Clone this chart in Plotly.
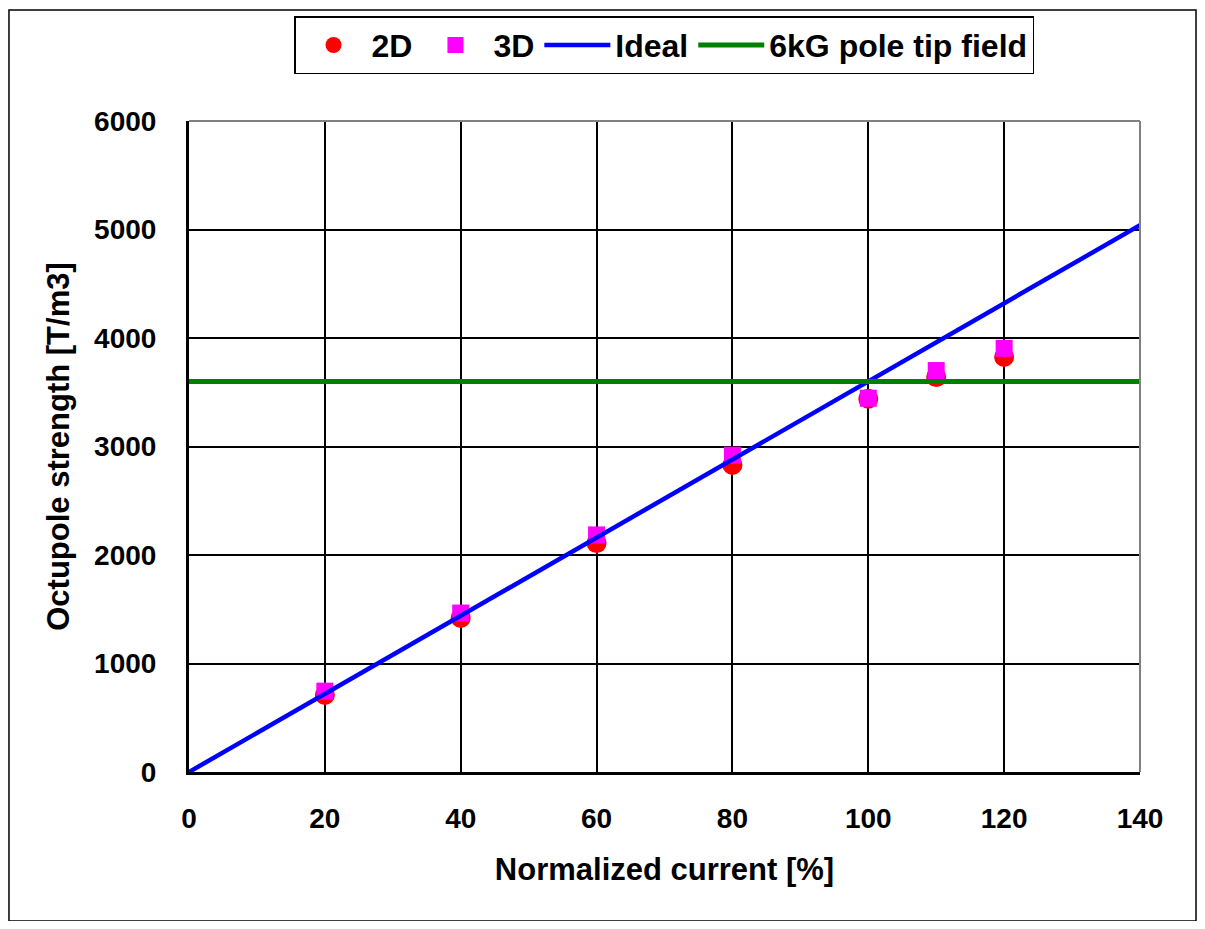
import plotly.graph_objects as go

# --- data ---
current = [20, 40, 60, 80, 100, 110, 120]
strength_2d = [710, 1420, 2110, 2830, 3440, 3640, 3825]
strength_3d = [745, 1465, 2185, 2920, 3445, 3700, 3905]

ideal_x = [0, 140]
ideal_y = [0, 5040]

pole_tip_x = [0, 140]
pole_tip_y = [3600, 3600]

FONT = "Arial, Liberation Sans, sans-serif"

fig = go.Figure()

fig.add_trace(go.Scatter(x=current, y=strength_2d, name="2D", mode="markers",
                         marker=dict(color="#ff0000", size=20, symbol="circle")))
fig.add_trace(go.Scatter(x=current, y=strength_3d, name="3D", mode="markers",
                         marker=dict(color="#ff00ff", size=17, symbol="square")))
fig.add_trace(go.Scatter(x=ideal_x, y=ideal_y, name="Ideal", mode="lines",
                         line=dict(color="#0000ff", width=4.5)))
fig.add_trace(go.Scatter(x=pole_tip_x, y=pole_tip_y, name="6kG pole tip field", mode="lines",
                         line=dict(color="#008000", width=5)))

# outer frame around the whole chart
fig.add_shape(type="rect", xref="paper", yref="paper",
              x0=-0.1893, x1=1.0589, y0=-0.2289, y1=1.1705,
              line=dict(color="black", width=1.5), layer="below")
# gray top/right edge of plot area
fig.add_shape(type="line", xref="paper", yref="paper", x0=0, x1=1, y0=1, y1=1,
              line=dict(color="#808080", width=2))
fig.add_shape(type="line", xref="paper", yref="paper", x0=1, x1=1, y0=0, y1=1,
              line=dict(color="#808080", width=2))

# the page body adds an 8px margin, so the figure is 16px smaller than the window
fig.update_layout(
    width=1189, height=913,
    margin=dict(l=181, r=57, t=113, b=149, autoexpand=False),
    paper_bgcolor="white", plot_bgcolor="white",
    font=dict(family=FONT, size=28, color="black", weight="bold"),
    showlegend=True,
    legend=dict(orientation="h", x=0.4995, xanchor="center", y=1.161, yanchor="top",
                bordercolor="black", borderwidth=1.5, bgcolor="white",
                font=dict(family=FONT, size=32, color="black", weight="bold"),
                itemwidth=66, traceorder="normal"),
    xaxis=dict(range=[0, 140], tickvals=[0, 20, 40, 60, 80, 100, 120, 140],
               showgrid=True, gridcolor="black", gridwidth=2,
               showline=True, linecolor="black", linewidth=3,
               zeroline=False, ticks="", ticklabelstandoff=19,
               tickfont=dict(size=28, weight="bold"),
               title=dict(text="Normalized current [%]", standoff=26,
                          font=dict(size=31, weight="bold"))),
    yaxis=dict(range=[0, 6000], tickvals=[0, 1000, 2000, 3000, 4000, 5000, 6000],
               showgrid=True, gridcolor="black", gridwidth=2,
               showline=True, linecolor="black", linewidth=3,
               zeroline=False, ticks="", ticklabelstandoff=24,
               tickfont=dict(size=28, weight="bold"),
               title=dict(text="Octupole strength [T/m3]", standoff=16,
                          font=dict(size=31, weight="bold"))),
)

fig.write_html("out.html")
